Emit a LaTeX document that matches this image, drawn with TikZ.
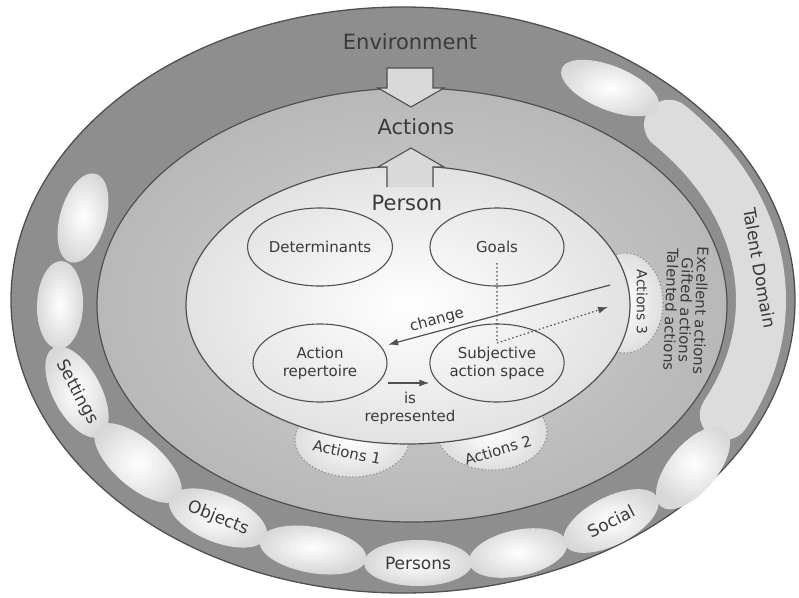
\documentclass[tikz,border=0pt]{standalone}
\usepackage{fontspec}
\setmainfont{DejaVu Sans}
\usetikzlibrary{shapes.geometric,arrows.meta}

\definecolor{ringgray}{HTML}{8E8E8E}
\definecolor{midin}{HTML}{D2D2D2}
\definecolor{midout}{HTML}{B8B8B8}
\definecolor{persongray}{HTML}{E2E2E2}
\definecolor{beadgray}{HTML}{D8D8D8}
\definecolor{talentgray}{HTML}{DCDCDC}
\definecolor{blobgray}{HTML}{DEDEDE}
\definecolor{linegray}{HTML}{505050}
\definecolor{textgray}{HTML}{3A3A3A}

\tikzset{
    innerell/.style={draw=linegray, ellipse, line width=1.1pt, minimum width=134pt, minimum height=78pt, inner sep=0pt, align=center, font=\fontsize{15}{18}\selectfont, text=textgray},
    bead/.style={ellipse, inner sep=0pt, inner color=white, outer color=beadgray, font=\fontsize{17}{20}\selectfont, text=textgray},
    blob/.style={ellipse, draw=gray!80, dash pattern=on 1.5pt off 2pt, line width=1.2pt, inner sep=0pt, inner color=white, outer color=blobgray},
    lbl/.style={font=\fontsize{15}{18}\selectfont, text=textgray, align=center},
    bigtext/.style={font=\fontsize{21}{25}\selectfont, text=textgray},
    blockarrow/.style={draw=linegray, line width=1.1pt, fill=gray!30},
    con/.style={draw=linegray, line width=1.2pt, -{Latex[length=10pt,width=7pt]}},
}

\begin{document}
\begin{tikzpicture}[x=1pt, y=1pt]
    \useasboundingbox (0,0) rectangle (799,-597);

    % 外側の楕円を描画
    \draw[draw=linegray, line width=1.3pt, fill=ringgray] (403,-300) ellipse [x radius=392, y radius=293];

    % 領域の帯を描画
    \draw[line width=50pt, line cap=round, draw=talentgray] (403,-300) ++(42:358 and 262) arc[start angle=42, end angle=-26, x radius=358, y radius=262];
    \node[bead, rotate=-80, inner color=talentgray, outer color=talentgray] (talent) at (760,-268) {Talent Domain};

    % 環境の粒を描画
    \node[bead, rotate=-22, minimum width=104pt, minimum height=44pt] (b0) at (610,-88) {};
    \node[bead, rotate=74, minimum width=92pt, minimum height=46pt] (b1) at (83,-218) {};
    \node[bead, rotate=88, minimum width=88pt, minimum height=46pt] (b2) at (60,-305) {};
    \node[bead, rotate=-62, minimum width=100pt, minimum height=48pt] (settings) at (77,-392) {Settings};
    \node[bead, rotate=-41, minimum width=108pt, minimum height=48pt] (b4) at (138,-463) {};
    \node[bead, rotate=-22, minimum width=104pt, minimum height=48pt] (objects) at (218,-518) {Objects};
    \node[bead, rotate=-10, minimum width=108pt, minimum height=46pt] (b6) at (313,-550) {};
    \node[bead, minimum width=108pt, minimum height=46pt] (persons) at (418,-563) {Persons};
    \node[bead, rotate=12, minimum width=100pt, minimum height=46pt] (b8) at (518,-553) {};
    \node[bead, rotate=27, minimum width=104pt, minimum height=48pt] (social) at (611,-521) {Social};
    \node[bead, rotate=50, minimum width=100pt, minimum height=48pt] (b10) at (693,-468) {};

    % 行動の楕円を描画
    \draw[draw=linegray, line width=1.2pt, inner color=midin, outer color=midout] (412,-305) ellipse [x radius=315, y radius=217];

    % 行動の塊を描画
    \node[blob, minimum width=114pt, minimum height=74pt] (a1) at (352,-440) {};
    \node[blob, minimum width=110pt, minimum height=76pt] (a2) at (492,-432) {};
    \node[blob, minimum width=76pt, minimum height=100pt] (a3) at (625,-303) {};

    % 人の楕円を描画
    \draw[draw=linegray, line width=1.2pt, inner color=white, outer color=persongray] (408,-305) ellipse [x radius=222, y radius=139];

    % 大きな矢印を描画
    \draw[blockarrow] (387,-68) -- (433,-68) -- (433,-88) -- (444,-88) -- (411,-107) -- (378,-88) -- (387,-88) -- cycle;
    \filldraw[blockarrow] (387,-187) -- (387,-167) -- (378,-167) -- (411,-148) -- (444,-167) -- (433,-167) -- (433,-187);

    % ラベルを描画
    \node[bigtext] (env) at (410,-42) {Environment};
    \node[bigtext] (act) at (416,-127) {Actions};
    \node[bigtext] (per) at (407,-203) {Person};

    % 内側のノードを描画
    \node[innerell] (det) at (320,-247) {Determinants};
    \node[innerell] (goals) at (497,-247) {Goals};
    \node[innerell] (rep) at (320,-363) {Action\\repertoire};
    \node[innerell] (sas) at (497,-363) {Subjective\\action space};

    \node[lbl, rotate=-12] (a1t) at (347,-452) {Actions 1};
    \node[lbl, rotate=17] (a2t) at (498,-450) {Actions 2};
    \node[lbl, rotate=-90, font=\fontsize{14}{16}\selectfont] (a3t) at (642,-302) {Actions 3};
    \node[lbl, rotate=-92, font=\fontsize{15}{15}\selectfont] (kinds) at (686,-310) {Excellent actions\\Gifted actions\\Talented actions};

    % エッジを描画
    \coordinate (chg) at (610,-285);
    \coordinate (a3in) at (608,-307);
    \draw[con, shorten >=7pt] (chg) -- (rep);
    \node[lbl, rotate=15] (chgl) at (437,-320) {change};
    \draw[con, dash pattern=on 1.5pt off 2.5pt] ([yshift=-16pt]goals.center) -- ([yshift=20pt]sas.center) -- (a3in);
    \draw[con] ([yshift=-20pt]rep.east) -- ([yshift=-20pt]sas.west);
    \node[lbl] (isrep) at (410,-408) {is\\represented};
\end{tikzpicture}
\end{document}
